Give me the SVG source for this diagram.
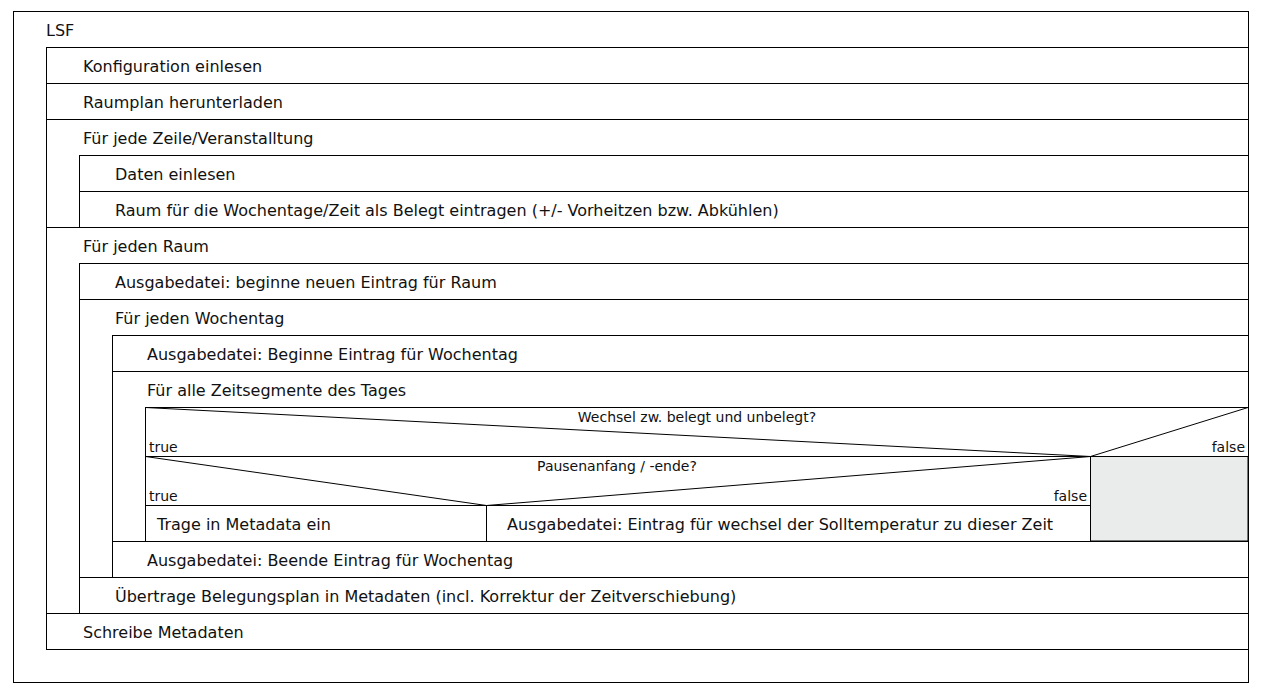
<svg xmlns="http://www.w3.org/2000/svg" width="1261" height="697" viewBox="0 0 1261 697">
<style>
.b{fill:none;stroke:#000;stroke-width:1}
.l{stroke:#000;stroke-width:1;fill:none}
.t{font-family:"DejaVu Sans",Verdana,sans-serif;font-size:16px;fill:#111}
.s{font-family:"DejaVu Sans",Verdana,sans-serif;font-size:14px;fill:#111}
.g{fill:#eaecec;stroke:#000;stroke-width:1}
</style>
<rect width="1261" height="697" fill="#fff"/>
<g id="root">
<rect class="b" x="13.5" y="11.5" width="1235" height="671"/>
<text class="t" x="46" y="36">LSF</text>
</g>
<g id="seq-main">
<rect class="b" x="46.5" y="47.5" width="1202" height="602"/>
</g>
<g id="n-konfig">
<line class="l" x1="46" y1="83.5" x2="1248" y2="83.5"/>
<text class="t" x="83" y="72">Konfiguration einlesen</text>
</g>
<g id="n-raumplan">
<line class="l" x1="46" y1="119.5" x2="1248" y2="119.5"/>
<text class="t" x="83" y="108">Raumplan herunterladen</text>
</g>
<g id="loop-zeile">
<text class="t" x="83" y="144">Für jede Zeile/Veranstalltung</text>
<line class="l" x1="79.5" y1="155.5" x2="1248" y2="155.5"/>
<line class="l" x1="79.5" y1="155" x2="79.5" y2="227"/>
</g>
<g id="n-daten">
<line class="l" x1="79" y1="191.5" x2="1248" y2="191.5"/>
<text class="t" x="115" y="180">Daten einlesen</text>
</g>
<g id="n-raum-belegt">
<text class="t" x="115" y="216">Raum für die Wochentage/Zeit als Belegt eintragen (+/- Vorheitzen bzw. Abkühlen)</text>
</g>
<g id="loop-raum">
<line class="l" x1="46" y1="227.5" x2="1248" y2="227.5"/>
<text class="t" x="83" y="252">Für jeden Raum</text>
<line class="l" x1="79.5" y1="263.5" x2="1248" y2="263.5"/>
<line class="l" x1="79.5" y1="263" x2="79.5" y2="613"/>
</g>
<g id="n-beginne-raum">
<text class="t" x="115" y="288">Ausgabedatei: beginne neuen Eintrag für Raum</text>
<line class="l" x1="79" y1="299.5" x2="1248" y2="299.5"/>
</g>
<g id="loop-wochentag">
<text class="t" x="115" y="324">Für jeden Wochentag</text>
<line class="l" x1="112.5" y1="335.5" x2="1248" y2="335.5"/>
<line class="l" x1="112.5" y1="335" x2="112.5" y2="577"/>
</g>
<g id="n-beginne-wochentag">
<text class="t" x="147" y="360">Ausgabedatei: Beginne Eintrag für Wochentag</text>
<line class="l" x1="112" y1="371.5" x2="1248" y2="371.5"/>
</g>
<g id="loop-zeitsegmente">
<text class="t" x="147" y="396">Für alle Zeitsegmente des Tages</text>
<line class="l" x1="145.5" y1="407.5" x2="1248" y2="407.5"/>
<line class="l" x1="145.5" y1="407" x2="145.5" y2="541"/>
</g>
<g id="if-wechsel">
<polyline class="l" points="145.5,407.5 1090.5,456.5 1248,407.5"/>
<text class="s" x="697" y="422" text-anchor="middle">Wechsel zw. belegt und unbelegt?</text>
<text class="s" x="149" y="452">true</text>
<text class="s" x="1245" y="452" text-anchor="end">false</text>
<line class="l" x1="145" y1="456.5" x2="1248" y2="456.5"/>
<rect class="g" x="1090.5" y="456.5" width="157.5" height="84.5"/>
</g>
<g id="if-pause">
<polyline class="l" points="145.5,456.5 486.5,505.5 1090.5,456.5"/>
<text class="s" x="617" y="471" text-anchor="middle">Pausenanfang / -ende?</text>
<text class="s" x="149" y="501">true</text>
<text class="s" x="1087" y="501" text-anchor="end">false</text>
<line class="l" x1="145" y1="505.5" x2="1090" y2="505.5"/>
<line class="l" x1="486.5" y1="505" x2="486.5" y2="541"/>
</g>
<g id="n-trage-metadata">
<text class="t" x="157" y="530">Trage in Metadata ein</text>
</g>
<g id="n-eintrag-wechsel">
<text class="t" x="507" y="530">Ausgabedatei: Eintrag für wechsel der Solltemperatur zu dieser Zeit</text>
</g>
<g id="n-beende-wochentag">
<line class="l" x1="112" y1="541.5" x2="1248" y2="541.5"/>
<text class="t" x="147" y="566">Ausgabedatei: Beende Eintrag für Wochentag</text>
</g>
<g id="n-uebertrage">
<line class="l" x1="79" y1="577.5" x2="1248" y2="577.5"/>
<text class="t" x="115" y="602">Übertrage Belegungsplan in Metadaten (incl. Korrektur der Zeitverschiebung)</text>
</g>
<g id="n-schreibe">
<line class="l" x1="46" y1="613.5" x2="1248" y2="613.5"/>
<text class="t" x="83" y="638">Schreibe Metadaten</text>
</g>
<g id="connectors"></g>
</svg>
